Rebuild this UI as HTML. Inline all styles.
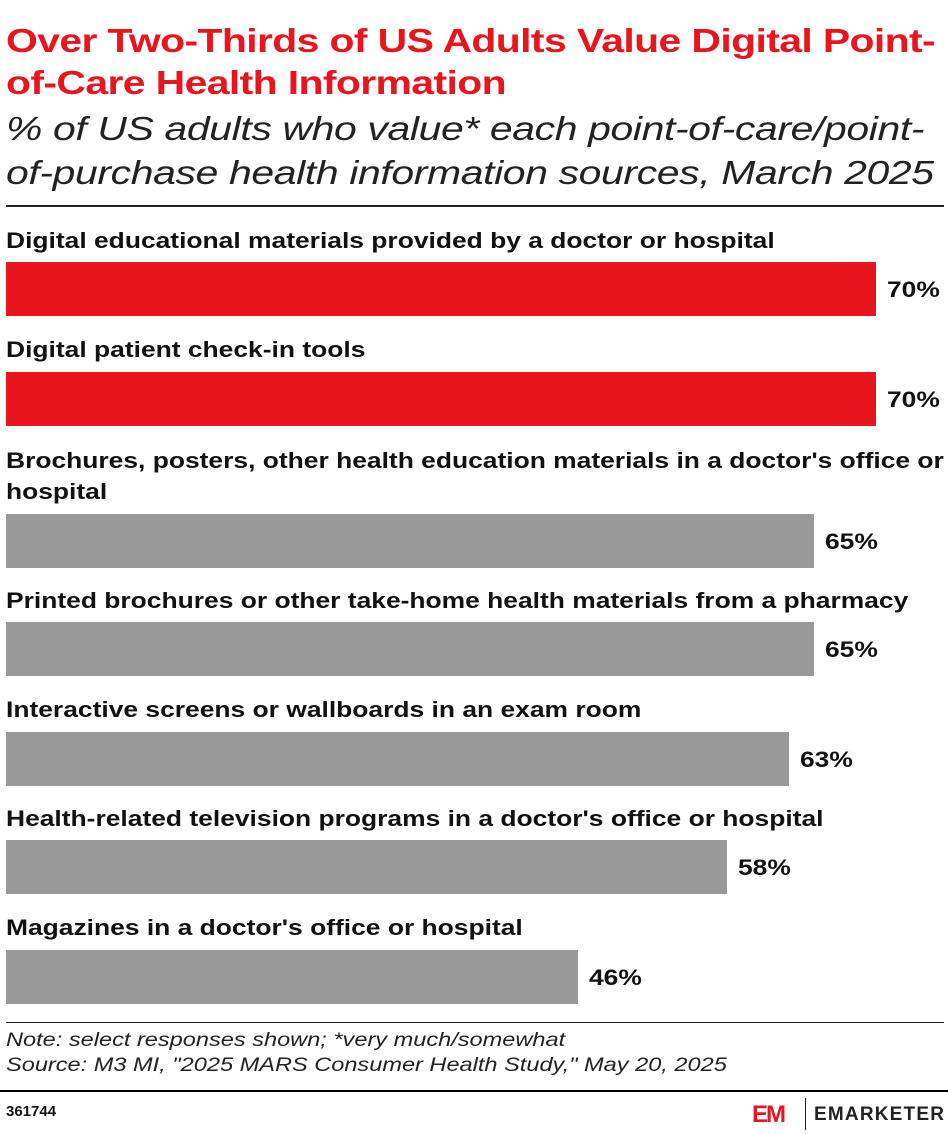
<!DOCTYPE html>
<html><head><style>
body{margin:0;width:948px;height:1134px;background:#fff;font-family:"Liberation Sans",sans-serif;position:relative;overflow:hidden}
.a{position:absolute;white-space:nowrap}
.t{left:6px;color:#e8141e;font-weight:bold;font-size:33px;letter-spacing:-0.5px;transform:scaleX(1.24);transform-origin:0 0}
.s{left:6px;font-style:italic;font-size:33px;color:#222;letter-spacing:-0.3px;transform:scaleX(1.24);transform-origin:0 0}
.l{left:6px;font-weight:bold;font-size:22px;color:#111;transform:scaleX(1.2);transform-origin:0 0}
.b{left:6px;height:54px}
.v{font-weight:bold;font-size:22px;color:#111;transform:scaleX(1.2);transform-origin:0 0}
.n{left:6px;font-style:italic;font-size:19px;color:#222;transform:scaleX(1.24);transform-origin:0 0}
</style></head><body>
<div class="a t" style="top:22px">Over Two-Thirds of US Adults Value Digital Point-</div>
<div class="a t" style="top:64px">of-Care Health Information</div>
<div class="a s" style="top:110px">% of US adults who value* each point-of-care/point-</div>
<div class="a s" style="top:154px">of-purchase health information sources, March 2025</div>
<div class="a" style="left:6px;top:205px;width:938px;height:2px;background:#222"></div>

<div class="a l" style="top:228px">Digital educational materials provided by a doctor or hospital</div>
<div class="a b" style="top:262px;width:870px;background:#e8141e"></div>
<div class="a v" style="left:887px;top:277px">70%</div>

<div class="a l" style="top:337px">Digital patient check-in tools</div>
<div class="a b" style="top:372px;width:870px;background:#e8141e"></div>
<div class="a v" style="left:887px;top:387px">70%</div>

<div class="a l" style="top:448px">Brochures, posters, other health education materials in a doctor's office or</div>
<div class="a l" style="top:479px">hospital</div>
<div class="a b" style="top:514px;width:808px;background:#999"></div>
<div class="a v" style="left:825px;top:529px">65%</div>

<div class="a l" style="top:588px">Printed brochures or other take-home health materials from a pharmacy</div>
<div class="a b" style="top:622px;width:808px;background:#999"></div>
<div class="a v" style="left:825px;top:637px">65%</div>

<div class="a l" style="top:697px">Interactive screens or wallboards in an exam room</div>
<div class="a b" style="top:732px;width:783px;background:#999"></div>
<div class="a v" style="left:800px;top:747px">63%</div>

<div class="a l" style="top:806px">Health-related television programs in a doctor's office or hospital</div>
<div class="a b" style="top:840px;width:721px;background:#999"></div>
<div class="a v" style="left:738px;top:855px">58%</div>

<div class="a l" style="top:915px">Magazines in a doctor's office or hospital</div>
<div class="a b" style="top:950px;width:572px;background:#999"></div>
<div class="a v" style="left:589px;top:965px">46%</div>

<div class="a" style="left:6px;top:1022px;width:938px;height:1px;background:#222"></div>
<div class="a n" style="top:1030px">Note: select responses shown; *very much/somewhat</div>
<div class="a n" style="top:1055px">Source: M3 MI, "2025 MARS Consumer Health Study," May 20, 2025</div>
<div class="a" style="left:0;top:1090px;width:948px;height:2px;background:#000"></div>
<div class="a" style="left:6px;top:1103px;font-weight:bold;font-size:15px;color:#111">361744</div>
<div class="a" style="left:752px;top:1101px;font-weight:bold;font-size:24px;color:#e8141e;letter-spacing:-2px">EM</div>
<div class="a" style="left:805px;top:1098px;width:1px;height:32px;background:#222"></div>
<div class="a" style="left:814px;top:1104px;font-weight:bold;font-size:19px;color:#222;letter-spacing:1.2px">EMARKETER</div>
</body></html>
